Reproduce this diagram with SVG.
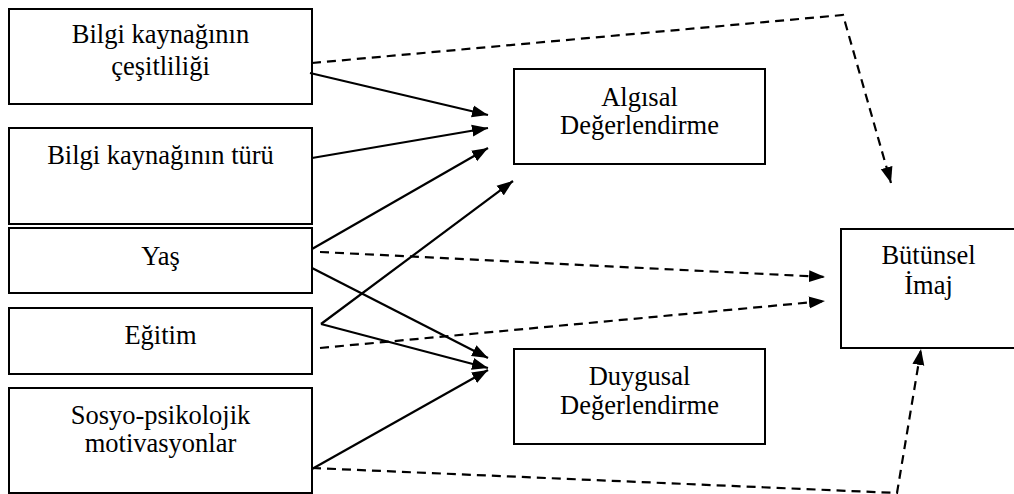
<svg xmlns="http://www.w3.org/2000/svg" width="1014" height="494" viewBox="0 0 1014 494">
<style>
.box{fill:#fff;stroke:#000;stroke-width:2}
text{font-family:'Liberation Serif','Times New Roman',serif;font-size:26.5px;fill:#000;text-anchor:middle}
.s{fill:none;stroke:#000;stroke-width:2.2;marker-end:url(#ah)}
.d{fill:none;stroke:#000;stroke-width:2.2;stroke-dasharray:9 6;marker-end:url(#ah)}
</style>
<defs>
<marker id="ah" markerUnits="userSpaceOnUse" markerWidth="17" markerHeight="13" refX="16" refY="6" orient="auto" viewBox="0 0 17 12">
<path d="M0,0 L16,6 L0,12 z" fill="#000"/>
</marker>
</defs>
<rect width="1014" height="494" fill="#fff"/>
<g id="n1"><rect class="box" x="9" y="9" width="303" height="95"/><text x="160.5" y="43">Bilgi kaynağının</text><text x="160.5" y="75">çeşitliliği</text></g>
<g id="n2"><rect class="box" x="9" y="128" width="303" height="96"/><text x="160.5" y="164">Bilgi kaynağının türü</text></g>
<g id="n3"><rect class="box" x="9" y="228" width="303" height="65"/><text x="160.5" y="265">Yaş</text></g>
<g id="n4"><rect class="box" x="9" y="308" width="303" height="66"/><text x="160.5" y="344">Eğitim</text></g>
<g id="n5"><rect class="box" x="9" y="388" width="303" height="105"/><text x="160.5" y="424">Sosyo-psikolojik</text><text x="160.5" y="452">motivasyonlar</text></g>
<g id="n6"><rect class="box" x="514" y="69" width="251" height="95"/><text x="639.5" y="106">Algısal</text><text x="639.5" y="134">Değerlendirme</text></g>
<g id="n7"><rect class="box" x="514" y="349" width="251" height="95"/><text x="639.5" y="385">Duygusal</text><text x="639.5" y="414">Değerlendirme</text></g>
<g id="n8"><rect class="box" x="841" y="229" width="174" height="119"/><text x="928.5" y="264">Bütünsel</text><text x="928.5" y="294">İmaj</text></g>
<g id="connectors">
<path class="s" d="M310,73 L488,115"/>
<path class="s" d="M312,158 L488,128"/>
<path class="s" d="M312,249 L488,148"/>
<path class="s" d="M321,324 L513,181"/>
<path class="s" d="M321,324 L488,368"/>
<path class="s" d="M312,268 L488,358"/>
<path class="s" d="M312,469 L488,370"/>
<path class="d" d="M312,63 L843,15 L891,183"/>
<path class="d" d="M320,252 L825,277"/>
<path class="d" d="M320,348 L825,301"/>
<path class="d" d="M312,468 L897,493 L921,349"/>
</g>
</svg>
